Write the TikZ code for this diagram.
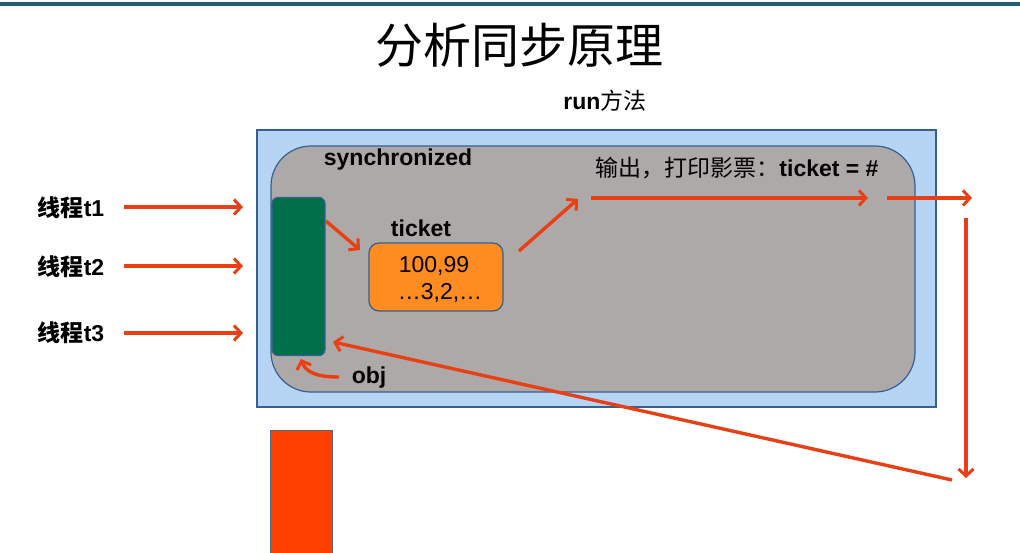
\documentclass[tikz,border=0pt]{standalone}
\usepackage{fontspec}
\setmainfont{Liberation Sans}
\newfontfamily\cjk{Noto Sans CJK SC}
\usetikzlibrary{arrows.meta}
\definecolor{arrowred}{RGB}{232,64,20}
\definecolor{outerblue}{RGB}{182,213,245}
\definecolor{edgeblue}{RGB}{55,95,145}
\definecolor{innergray}{RGB}{173,169,168}
\definecolor{lockgreen}{RGB}{0,112,74}
\definecolor{ticketorange}{RGB}{255,140,32}
\definecolor{blockred}{RGB}{255,64,0}
\definecolor{topteal}{RGB}{30,95,115}
\tikzset{
  redarrow/.style={draw=arrowred, line width=3.4pt, -{Straight Barb[length=7pt,width=15pt,line width=3pt]}},
  lbl/.style={inner sep=0pt, font=\fontsize{23}{26}\selectfont},
  blbl/.style={lbl, font=\fontsize{23}{26}\selectfont\bfseries},
  thlbl/.style={inner sep=0pt, font=\fontsize{23}{26}\selectfont\bfseries},
}
\begin{document}
\begin{tikzpicture}[x=1pt,y=-1pt]
\useasboundingbox (0,0) rectangle (1020,553);
\fill[white] (0,0) rectangle (1020,553);
% top bar
\fill[topteal] (0,2) rectangle (1020,6);
% title
\node[inner sep=0pt, font=\fontsize{48}{52}\selectfont\cjk] (title) at (519,45) {分析同步原理};
\node[lbl] (run) at (605,101) {\textbf{run}{\cjk 方法}};
% outer method box
\node[draw=edgeblue, line width=1.2pt, fill=outerblue, minimum width=679pt, minimum height=277pt, inner sep=0pt] (outer) at (596.5,268.5) {};
% synchronized block
\node[draw=edgeblue, line width=1.2pt, fill=innergray, rounded corners=40pt, minimum width=644pt, minimum height=246pt, inner sep=0pt] (sync) at (593,269) {};
\node[blbl] (synclbl) at (398,160) {synchronized};
\node[lbl] (out) at (737,168) {{\cjk 输出，打印影票：}\textbf{ticket = \#}};
% lock object
\node[draw=edgeblue, line width=1.2pt, fill=lockgreen, rounded corners=6pt, minimum width=53pt, minimum height=158pt, inner sep=0pt] (obj) at (298.5,276.5) {};
\node[blbl] (objlbl) at (369,378) {obj};
% ticket
\node[blbl] (ticketlbl) at (421,228) {ticket};
\node[draw=edgeblue, line width=1.2pt, fill=ticketorange, rounded corners=10pt, minimum width=134pt, minimum height=68pt, inner sep=0pt] (ticket) at (436,277) {};
\node[lbl] (t100) at (434,266) {100,99};
\node[lbl] (t3) at (440,293) {…3,2,…};
% bottom red block
\node[draw=edgeblue!70!gray, line width=1pt, fill=blockred, minimum width=62pt, minimum height=140pt, inner sep=0pt, anchor=north west] (blk) at (270,430) {};
% threads
\node[thlbl] (th1) at (71,208) {{\cjk 线程}t1};
\node[thlbl] (th2) at (71,267) {{\cjk 线程}t2};
\node[thlbl] (th3) at (71,333) {{\cjk 线程}t3};
\coordinate (e1) at (243,207);
\coordinate (e2) at (243,266);
\coordinate (e3) at (243,333);
\draw[redarrow] ([xshift=20pt]th1.east |- e1) -- (e1);
\draw[redarrow] ([xshift=20pt]th2.east |- e2) -- (e2);
\draw[redarrow] ([xshift=20pt]th3.east |- e3) -- (e3);
% flow arrows
\coordinate (g1) at (326,221);
\coordinate (g2) at (360,250);
\draw[redarrow] (g1) -- (g2);
\coordinate (o1) at (519,251);
\coordinate (o2) at (578,199);
\draw[redarrow] (o1) -- (o2);
\coordinate (p1) at (591,198);
\coordinate (p2) at (868,198);
\draw[redarrow] (p1) -- (p2);
\coordinate (q1) at (887,198);
\coordinate (q2) at (972,198);
\draw[redarrow] (q1) -- (q2);
\coordinate (d1) at (966,218);
\coordinate (d2) at (966,478);
\draw[redarrow] (d1) -- (d2);
\coordinate (b1) at (952,480);
\coordinate (b2) at (333,342);
\draw[redarrow] (b1) -- (b2);
% obj arrow
\coordinate (c1) at (339,377);
\coordinate (c2) at (301,359);
\draw[redarrow] (c1) .. controls (318,377) and (306,373) .. (c2);
\end{tikzpicture}
\end{document}
